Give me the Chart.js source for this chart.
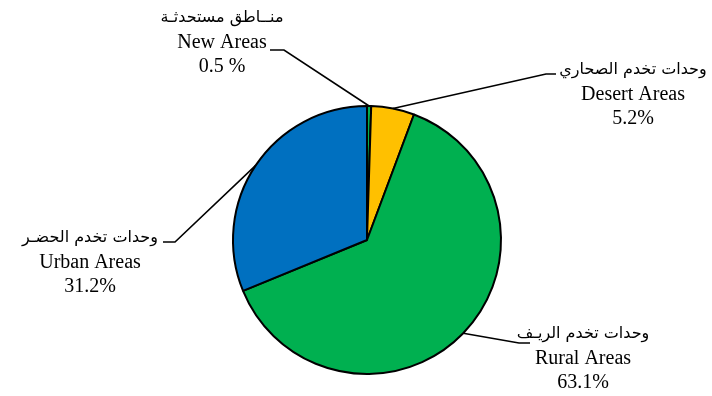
<!DOCTYPE html>
<html>
<head>
<meta charset="utf-8">
<script src="https://cdn.jsdelivr.net/npm/chart.js@4.4.1/dist/chart.umd.min.js"></script>
<style>
  html, body { margin: 0; padding: 0; background: #fff; }
  #wrap { width: 712px; height: 396px; }
</style>
</head>
<body>
<div id="wrap"><canvas id="pie" width="712" height="396"></canvas></div>
<script>
// data
var labelsEn = ['New Areas', 'Desert Areas', 'Rural Areas', 'Urban Areas'];
var labelsAr = ['منــاطق مستحدثـة', 'وحدات تخدم الصحاري', 'وحدات تخدم الريـف', 'وحدات تخدم الحضـر'];
var shares = [0.5, 5.2, 63.1, 31.2];
var pctText = ['0.5 %', '5.2%', '63.1%', '31.2%'];
var colors = ['#00B050', '#FFC000', '#00B050', '#0070C0'];

// where each label block sits (centre x, y of first line) and where its leader line leaves the text
var labelLayout = [
  { x: 222, y: 18, hx1: 270, hx2: 284, hy: 50 },
  { x: 633, y: 70, hx1: 556, hx2: 546, hy: 74 },
  { x: 583, y: 334, hx1: 530, hx2: 519, hy: 343 },
  { x: 90,  y: 238, hx1: 163, hx2: 175, hy: 242 }
];

var calloutPlugin = {
  id: 'callouts',
  afterDatasetsDraw: function (chart) {
    var ctx = chart.ctx;
    var arcs = chart.getDatasetMeta(0).data;
    ctx.save();
    for (var i = 0; i < arcs.length; i++) {
      var a = arcs[i];
      var p = a.getProps(['x', 'y', 'startAngle', 'endAngle', 'outerRadius'], true);
      var mid = (p.startAngle + p.endAngle) / 2;
      var ax = p.x + Math.cos(mid) * p.outerRadius;
      var ay = p.y + Math.sin(mid) * p.outerRadius;
      var L = labelLayout[i];
      // leader line
      ctx.beginPath();
      ctx.strokeStyle = '#000';
      ctx.lineWidth = 1.6;
      ctx.moveTo(L.hx1, L.hy);
      ctx.lineTo(L.hx2, L.hy);
      ctx.lineTo(ax, ay);
      ctx.stroke();
      // text
      ctx.fillStyle = '#000';
      ctx.textAlign = 'center';
      ctx.textBaseline = 'middle';
      ctx.font = '16px "DejaVu Sans", sans-serif';
      ctx.fillText(labelsAr[i], L.x, L.y);
      ctx.font = '20px "Liberation Serif", serif';
      ctx.fillText(labelsEn[i], L.x, L.y + 25);
      ctx.fillText(pctText[i], L.x, L.y + 49);
    }
    ctx.restore();
  }
};

var ctx = document.getElementById('pie').getContext('2d');
var chart = new Chart(ctx, {
  type: 'pie',
  data: {
    labels: labelsEn,
    datasets: [{
      data: shares,
      backgroundColor: colors,
      borderColor: '#000',
      borderWidth: 2
    }]
  },
  options: {
    responsive: false,
    animation: false,
    layout: { padding: { left: 232, right: 210, top: 105, bottom: 21 } },
    plugins: {
      legend: { display: false },
      tooltip: { enabled: false }
    }
  },
  plugins: [calloutPlugin]
});
</script>
</body>
</html>
